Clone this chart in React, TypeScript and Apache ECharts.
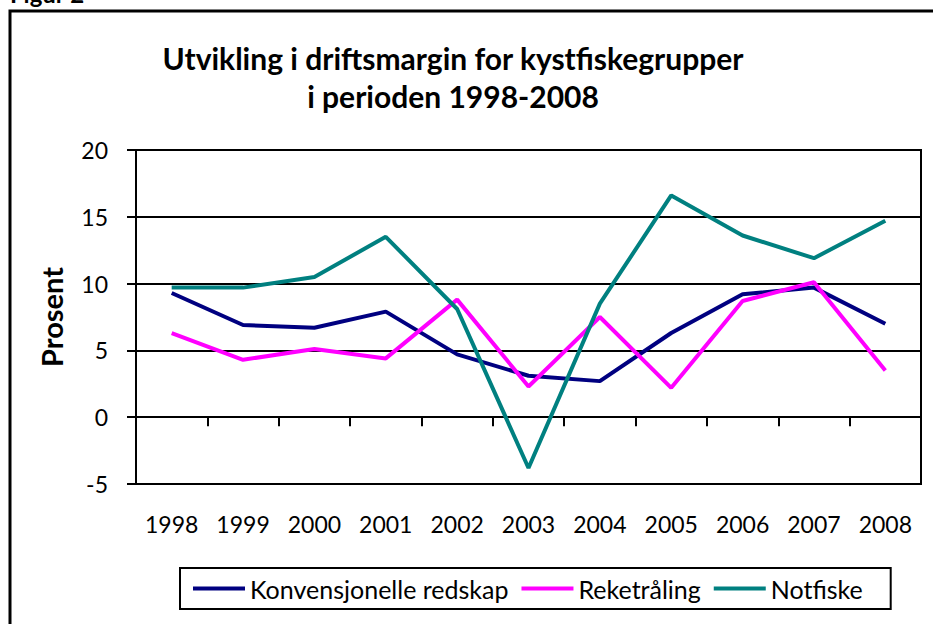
import React, { useEffect, useRef } from "react";
import * as echarts from "echarts";

const years = ["1998", "1999", "2000", "2001", "2002", "2003", "2004", "2005", "2006", "2007", "2008"];
const konvensjonelle = [9.3, 6.9, 6.7, 7.9, 4.7, 3.1, 2.7, 6.3, 9.2, 9.7, 7.0];
const reketraling = [6.3, 4.3, 5.1, 4.4, 8.8, 2.3, 7.5, 2.2, 8.7, 10.1, 3.5];
const notfiske = [9.7, 9.7, 10.5, 13.5, 8.1, -3.8, 8.5, 16.6, 13.6, 11.9, 14.7];
const seriesNames = ["Konvensjonelle redskap", "Reketråling", "Notfiske"];
const titleLines = ["Utvikling i driftsmargin for kystfiskegrupper", "i perioden 1998-2008"];

const FONT = "Lato, 'Open Sans', sans-serif";

export default function App() {
  const ref = useRef<HTMLDivElement>(null);
  useEffect(() => {
    if (!ref.current) return;
    const chart = echarts.init(ref.current, null, { renderer: "svg" });
    const mkSeries = (name: string, data: number[], color: string) => ({
      name,
      type: "line",
      data,
      xAxisIndex: 0,
      symbol: "none",
      lineStyle: { color, width: 4 },
      itemStyle: { color },
    });
    chart.setOption({
      animation: false,
      backgroundColor: "#fff",
      textStyle: { fontFamily: FONT },
      graphic: [
        {
          type: "polyline",
          shape: { points: [[10, 624], [10, 11], [933, 11]] },
          style: { stroke: "#000", lineWidth: 3, fill: "none" },
        },
        {
          type: "text",
          x: 10,
          y: 5,
          style: { text: "Figur 2", font: `bold 24px ${FONT}`, fill: "#000", textVerticalAlign: "bottom" },
        },
        {
          type: "text",
          x: 453,
          y: 58,
          style: { text: titleLines[0], font: `bold 30px ${FONT}`, fill: "#000", textAlign: "center", textVerticalAlign: "middle" },
        },
        {
          type: "text",
          x: 453,
          y: 96,
          style: { text: titleLines[1], font: `bold 30px ${FONT}`, fill: "#000", textAlign: "center", textVerticalAlign: "middle" },
        },
      ],
      grid: {
        left: 136,
        right: 12,
        top: 150,
        bottom: 140,
        show: true,
        borderColor: "#000",
        borderWidth: 2,
        backgroundColor: "transparent",
      },
      legend: {
        data: seriesNames,
        left: 180,
        top: 568,
        icon: "rect",
        itemWidth: 52,
        itemHeight: 4,
        itemGap: 13,
        padding: [8, 28, 8, 13],
        borderColor: "#000",
        borderWidth: 2,
        textStyle: { fontSize: 25, color: "#000", fontFamily: FONT },
      },
      xAxis: [
        {
          type: "category",
          data: years,
          position: "bottom",
          boundaryGap: true,
          axisLine: { onZero: true, lineStyle: { color: "#000", width: 2 } },
          axisTick: { show: true, length: 9, lineStyle: { color: "#000", width: 2 } },
          axisLabel: { show: false },
          splitLine: { show: false },
        },
        {
          type: "category",
          data: years,
          position: "bottom",
          boundaryGap: true,
          axisLine: { show: false, onZero: false },
          axisTick: { show: false },
          axisLabel: { show: true, margin: 28, fontSize: 23, color: "#000", fontFamily: FONT },
          splitLine: { show: false },
        },
      ],
      yAxis: {
        type: "value",
        min: -5,
        max: 20,
        interval: 5,
        name: "Prosent",
        nameLocation: "middle",
        nameRotate: 90,
        nameGap: 70,
        nameTextStyle: { fontSize: 29, fontWeight: "bold", color: "#000", fontFamily: FONT },
        axisLine: { show: true, lineStyle: { color: "#000", width: 2 } },
        axisTick: { show: true, length: 9, lineStyle: { color: "#000", width: 2 } },
        axisLabel: { fontSize: 23, color: "#000", margin: 28, fontFamily: FONT },
        splitLine: { show: true, lineStyle: { color: "#000", width: 2 } },
      },
      series: [
        mkSeries(seriesNames[0], konvensjonelle, "#000080"),
        mkSeries(seriesNames[1], reketraling, "#FF00FF"),
        mkSeries(seriesNames[2], notfiske, "#008080"),
      ],
    });
    return () => chart.dispose();
  }, []);
  return (
    <div
      ref={ref}
      style={{ position: "fixed", left: 0, top: 0, width: 933, height: 624, background: "#fff" }}
    />
  );
}
